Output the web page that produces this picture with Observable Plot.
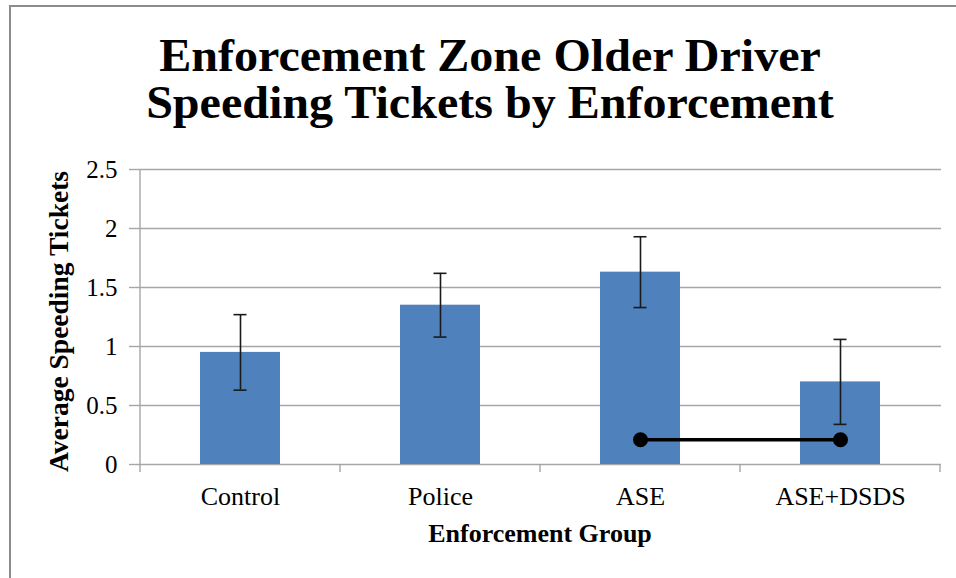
<!DOCTYPE html>
<html>
<head>
<meta charset="utf-8">
<script src="https://cdn.jsdelivr.net/npm/d3@7"></script>
<script src="https://cdn.jsdelivr.net/npm/@observablehq/plot@0.6"></script>
<style>
  html, body { margin: 0; padding: 0; background: #fff; width: 956px; height: 578px; overflow: hidden; }
  #wrap { position: relative; width: 956px; height: 578px; }
  #border { position: absolute; left: 9px; top: 5px; width: 1000px; height: 1000px; border-left: 2px solid #8c8c8c; border-top: 2px solid #8c8c8c; }
  #title { position: absolute; left: 0; top: 32px; width: 980px; text-align: center; font-family: "Liberation Serif", "Times New Roman", serif; font-weight: bold; font-size: 46px; line-height: 47px; color: #000; transform: scaleX(1.045); transform-origin: 490px 0; }
  #chart { position: absolute; left: 0; top: 140px; }
</style>
</head>
<body>
<div id="wrap">
  <div id="border"></div>
  <div id="title">Enforcement Zone Older Driver<br>Speeding Tickets by Enforcement</div>
  <div id="chart"></div>
</div>
<script>
const categories = ["Control", "Police", "ASE", "ASE+DSDS"];
const means = [0.95, 1.35, 1.63, 0.70];
const errors = [0.32, 0.27, 0.30, 0.36];
const lineCategories = ["ASE", "ASE+DSDS"];
const lineValues = [0.21, 0.21];
const yTicks = [0, 0.5, 1, 1.5, 2, 2.5];
const yTickLabels = ["0", "0.5", "1", "1.5", "2", "2.5"];
const yLabel = "Average Speeding Tickets";
const xLabel = "Enforcement Group";

const bars = categories.map((c, i) => ({cat: c, mean: means[i], err: errors[i]}));
const lineData = lineCategories.map((c, i) => ({cat: c, v: lineValues[i]}));

const boundaryTicks = (index, scales, values, dimensions) => {
  const sx = scales.x, sy = scales.y;
  const bw = typeof sx.bandwidth === "function" ? sx.bandwidth() : sx.bandwidth;
  const st = typeof sx.step === "function" ? sx.step() : sx.step;
  const gap = (st - bw) / 2;
  const xs = categories.map(c => sx(c) - gap);
  xs.push(sx(categories[categories.length - 1]) + bw + gap);
  const y0 = sy(0), yTop = sy(yTicks[yTicks.length - 1]);
  const g = d3.create("svg:g").attr("stroke", "#a6a6a6").attr("stroke-width", 1.4);
  g.append("line").attr("x1", xs[0]).attr("x2", xs[0]).attr("y1", yTop).attr("y2", y0);
  xs.forEach(x => g.append("line").attr("x1", x).attr("x2", x).attr("y1", y0).attr("y2", y0 + 8));
  return g.node();
};

const chart = Plot.plot({
  width: 956,
  height: 438,
  marginTop: 29,
  marginBottom: 114,
  marginLeft: 138,
  marginRight: 15,
  style: {fontFamily: "'Liberation Serif', 'Times New Roman', serif", background: "transparent", color: "#000", overflow: "visible"},
  x: {domain: categories, paddingInner: 0.6, paddingOuter: 0.3, label: null},
  y: {domain: [0, 2.5], label: null},
  marks: [
    Plot.gridY(yTicks, {stroke: "#a6a6a6", strokeOpacity: 1, strokeWidth: 1.4}),
    Plot.barY(bars, {x: "cat", y: "mean", fill: "#4f81bd"}),
    Plot.ruleX(bars, {x: "cat", y1: d => d.mean - d.err, y2: d => d.mean + d.err, stroke: "#1a1a1a", strokeWidth: 1.6}),
    Plot.tickY(bars, {x: "cat", y: d => d.mean + d.err, insetLeft: 33.5, insetRight: 33.5, stroke: "#1a1a1a", strokeWidth: 1.6}),
    Plot.tickY(bars, {x: "cat", y: d => d.mean - d.err, insetLeft: 33.5, insetRight: 33.5, stroke: "#1a1a1a", strokeWidth: 1.6}),
    Plot.line(lineData, {x: "cat", y: "v", stroke: "#000", strokeWidth: 3.5}),
    Plot.dot(lineData, {x: "cat", y: "v", r: 7.5, fill: "#000"}),
    boundaryTicks,
    Plot.axisY(yTicks, {tickFormat: (d, i) => yTickLabels[i], tickSize: 9, tickPadding: 12, stroke: "#a6a6a6", strokeWidth: 1.4, fill: "#000", fontSize: 25, label: null}),
    Plot.axisX({tickSize: 0, tickPadding: 22, fontSize: 26, fill: "#000", label: null}),
    Plot.text([yLabel], {text: d => d, frameAnchor: "left", textAnchor: "middle", rotate: -90, dx: -79, dy: 4.5, fontSize: 27.5, fontWeight: "bold", fill: "#000", lineAnchor: "middle"}),
    Plot.text([xLabel], {text: d => d, frameAnchor: "bottom", textAnchor: "middle", dy: 69, fontSize: 26, fontWeight: "bold", fill: "#000", lineAnchor: "middle"})
  ]
});
document.getElementById("chart").appendChild(chart);
</script>
</body>
</html>
